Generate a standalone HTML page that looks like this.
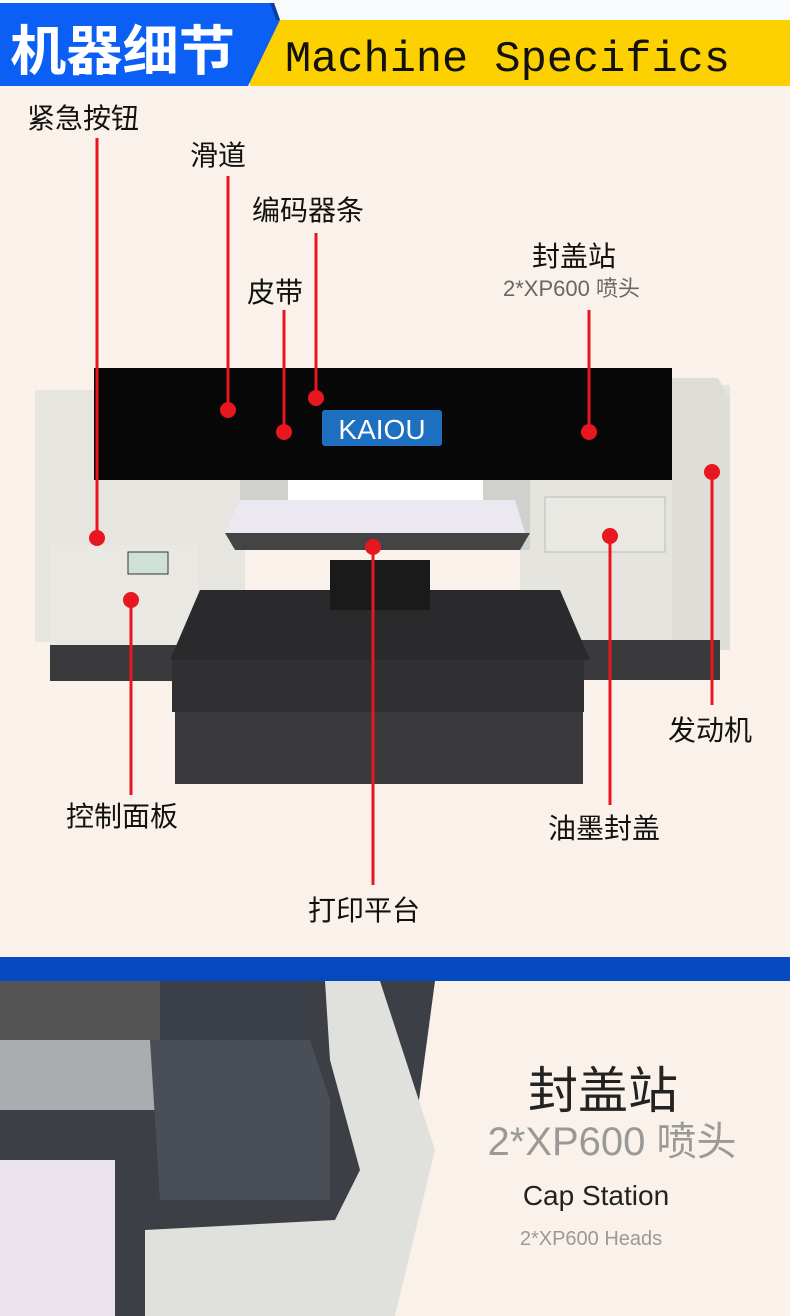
<!DOCTYPE html><html><head><meta charset="utf-8"><style>
body{margin:0;width:790px;height:1316px;overflow:hidden;background:#faf2ea;font-family:"Liberation Sans","Noto Sans CJK SC",sans-serif;}
svg{position:absolute;left:0;top:0}
</style></head><body>
<svg width="790" height="1316" viewBox="0 0 790 1316">
<rect width="790" height="1316" fill="#faf2ea"/>
<rect y="0" width="790" height="20" fill="#f8fafc"/>
<polygon points="250,20 790,20 790,86 250,86" fill="#fdd100"/>
<polygon points="0,3 274,3 280,20 248,86 0,86" fill="#0b5ff5"/>
<polygon points="270,3 274,3 280,20 276,20" fill="#0a3fa8"/>
<text x="10" y="70" font-size="54" font-weight="bold" fill="#fff" font-family="Noto Sans CJK SC,sans-serif" textLength="225" lengthAdjust="spacingAndGlyphs">机器细节</text>
<text x="285" y="71" font-size="44" fill="#111" font-family="Liberation Mono,monospace" textLength="445" lengthAdjust="spacingAndGlyphs">Machine Specifics</text>

<rect x="35" y="390" width="210" height="252" fill="#e6e5e0"/>
<rect x="520" y="385" width="210" height="255" fill="#e5e4df"/>
<polygon points="672,378 718,378 730,400 730,650 672,650" fill="#deddd8"/>
<rect x="50" y="645" width="160" height="36" fill="#3a3a3c"/>
<rect x="560" y="640" width="160" height="40" fill="#3a3a3c"/>
<rect x="240" y="480" width="290" height="70" fill="#d0d0cc"/>
<rect x="288" y="480" width="195" height="30" fill="#fff"/>
<rect x="94" y="368" width="578" height="112" fill="#080808"/>
<rect x="322" y="410" width="120" height="36" rx="3" fill="#1d6fc0"/>
<text x="382" y="439" font-size="28" fill="#fff" text-anchor="middle" font-family="Liberation Sans,sans-serif">KAIOU</text>
<rect x="50" y="545" width="148" height="100" fill="#e9e8e3"/>
<rect x="128" y="552" width="40" height="22" fill="#cfe0d8" stroke="#333"/>
<rect x="545" y="497" width="120" height="55" fill="#e9e8e3" stroke="#bbb"/>
<polygon points="225,533 530,533 520,550 235,550" fill="#444"/>
<polygon points="240,500 515,500 525,533 225,533" fill="#ece8f1"/>
<polygon points="200,590 560,590 590,660 170,660" fill="#2a2a2c"/>
<rect x="172" y="660" width="412" height="52" fill="#303032"/>
<rect x="175" y="712" width="408" height="72" fill="#3a3a3c"/>
<rect x="330" y="560" width="100" height="50" fill="#1a1a1a"/>

<g stroke="#e8161e" stroke-width="3" fill="none">
<line x1="97" y1="138" x2="97" y2="538"/>
<line x1="228" y1="176" x2="228" y2="410"/>
<line x1="316" y1="233" x2="316" y2="398"/>
<line x1="284" y1="310" x2="284" y2="432"/>
<line x1="589" y1="310" x2="589" y2="432"/>
<line x1="712" y1="472" x2="712" y2="705"/>
<line x1="610" y1="536" x2="610" y2="805"/>
<line x1="373" y1="547" x2="373" y2="885"/>
<line x1="131" y1="600" x2="131" y2="795"/>
</g>
<g fill="#e8161e">
<circle cx="97" cy="538" r="8"/><circle cx="228" cy="410" r="8"/><circle cx="316" cy="398" r="8"/>
<circle cx="284" cy="432" r="8"/><circle cx="589" cy="432" r="8"/><circle cx="712" cy="472" r="8"/>
<circle cx="610" cy="536" r="8"/><circle cx="373" cy="547" r="8"/><circle cx="131" cy="600" r="8"/>
</g>
<g font-size="28" fill="#111">
<text x="27" y="128">紧急按钮</text>
<text x="190" y="165">滑道</text>
<text x="252" y="220">编码器条</text>
<text x="247" y="302">皮带</text>
<text x="532" y="266">封盖站</text>
<text x="668" y="740">发动机</text>
<text x="66" y="826">控制面板</text>
<text x="548" y="838">油墨封盖</text>
<text x="308" y="920">打印平台</text>
</g>
<text x="503" y="296" font-size="22" fill="#666">2*XP600 喷头</text>

<rect y="957" width="790" height="24" fill="#0449bf"/>
<polygon points="0,981 435,981 390,1316 0,1316" fill="#3c3f45"/>
<rect x="0" y="981" width="160" height="60" fill="#555"/>
<rect x="0" y="1040" width="155" height="70" fill="#a9adb0"/>
<rect x="160" y="981" width="145" height="60" fill="#3b4049"/>
<polygon points="150,1040 310,1040 330,1100 330,1200 160,1200" fill="#4a4f57"/>
<polygon points="0,1160 115,1160 115,1316 0,1316" fill="#ebe3ee"/>
<polygon points="325,981 380,981 435,1150 395,1316 145,1316 145,1230 335,1220 360,1170 330,1060" fill="#e0e1dd"/>

<text x="603" y="1108" font-size="50" fill="#222" text-anchor="middle">封盖站</text>
<text x="612" y="1155" font-size="40" fill="#999" text-anchor="middle">2*XP600 喷头</text>
<text x="596" y="1205" font-size="28" fill="#222" text-anchor="middle">Cap Station</text>
<text x="591" y="1245" font-size="20" fill="#999" text-anchor="middle">2*XP600 Heads</text>
</svg>
</body></html>
